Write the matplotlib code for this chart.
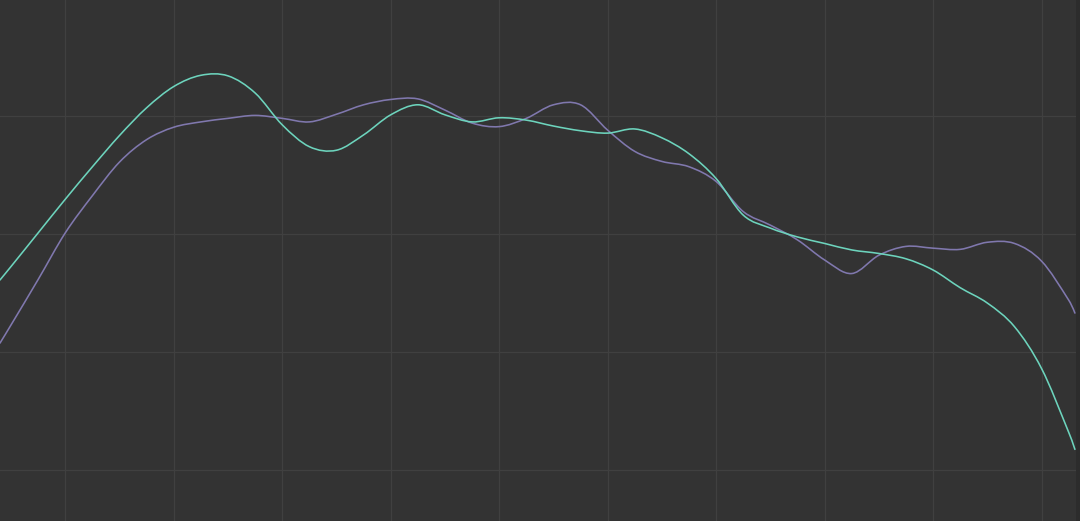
import numpy as np
import matplotlib
matplotlib.use("Agg")
import matplotlib.pyplot as plt
from matplotlib.path import Path
from matplotlib.patches import PathPatch

# sample positions (grid lines sit at multiples of 4)
x = [-2.41, -2, -1, 0, 1, 2, 3, 4, 5, 6, 7, 8, 9, 10, 11, 12, 13, 14, 15, 16, 17, 18, 19,
     20, 21, 22, 23, 24, 25, 26, 27, 28, 29, 30, 31, 32, 33, 34, 35, 36, 37, 37.23]

teal = [52.2, 54.5, 60.2, 65.9, 71.4, 76.7, 81.4, 85.0, 86.9, 86.8, 83.9, 78.5, 74.8, 74.2,
        76.8, 80.2, 81.9, 80.2, 79.0, 79.7, 79.3, 78.3, 77.5, 77.1, 77.8, 76.3, 73.6, 69.4,
        63.2, 61.0, 59.5, 58.4, 57.3, 56.7, 55.8, 53.9, 50.9, 48.3, 44.3, 37.2, 26.4, 23.5]

purple = [41.5, 44.6, 52.3, 60.2, 66.5, 72.2, 76.0, 78.1, 79.0, 79.6, 80.1, 79.6, 79.0, 80.3,
          81.9, 82.8, 82.9, 81.0, 78.8, 78.2, 79.6, 81.9, 81.9, 77.6, 74.0, 72.3, 71.4, 68.9,
          63.8, 61.5, 59.0, 55.6, 53.3, 56.4, 57.9, 57.6, 57.4, 58.6, 58.4, 55.4, 48.8, 46.6]

xticks = list(range(0, 40, 4))
yticks = [20, 40, 60, 80]


def smooth_path(xs, ys):
    # cubic bezier through the points (hermite with finite-difference slopes)
    xs = np.asarray(xs, float)
    ys = np.asarray(ys, float)
    n = len(xs)
    m = np.zeros(n)
    for i in range(1, n - 1):
        m[i] = (ys[i + 1] - ys[i - 1]) / (xs[i + 1] - xs[i - 1])
    m[0] = 2 * (ys[1] - ys[0]) / (xs[1] - xs[0]) - m[1]
    m[-1] = 2 * (ys[-1] - ys[-2]) / (xs[-1] - xs[-2]) - m[-2]
    verts = [(xs[0], ys[0])]
    codes = [Path.MOVETO]
    for i in range(n - 1):
        h = xs[i + 1] - xs[i]
        verts += [(xs[i] + h / 3, ys[i] + m[i] * h / 3),
                  (xs[i + 1] - h / 3, ys[i + 1] - m[i + 1] * h / 3),
                  (xs[i + 1], ys[i + 1])]
        codes += [Path.CURVE4] * 3
    return Path(verts, codes)


fig = plt.figure(figsize=(10.8, 5.21), dpi=100)
fig.patch.set_facecolor("#2c2c2c")
ax = fig.add_axes([0, 0, 1076 / 1080, 1])
ax.set_facecolor("#333333")

for ys, col in [(purple, "#8078ae"), (teal, "#6dd4bd")]:
    ax.add_patch(PathPatch(smooth_path(x, ys), fill=False, edgecolor=col,
                           linewidth=1.15, capstyle="round", zorder=3))

ax.set_xlim(-2.408, 37.27)
ax.set_ylim(11.36, 99.66)
ax.set_xticks(xticks)
ax.set_yticks(yticks)
ax.grid(True, color="#404040", linewidth=0.9)
ax.tick_params(length=0, labelbottom=False, labelleft=False)
for s in ax.spines.values():
    s.set_visible(False)

fig.savefig("out.png", dpi=100, facecolor=fig.get_facecolor())
